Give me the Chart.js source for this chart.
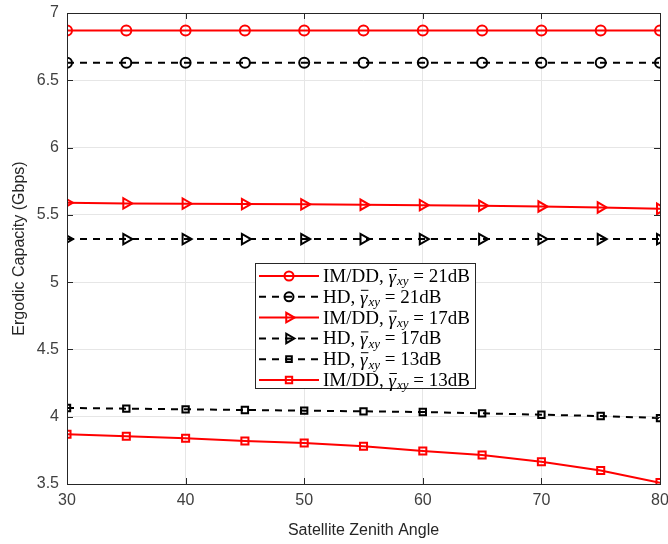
<!DOCTYPE html>
<html><head><meta charset="utf-8">
<script src="https://cdn.jsdelivr.net/npm/chart.js@4.4.0/dist/chart.umd.min.js"></script>
<style>html,body{margin:0;padding:0;background:#fff}#wrap{width:668px;height:544px}</style>
</head><body><div id="wrap"><canvas id="c" width="668" height="544"></canvas></div>
<script>
const angles = [30, 35, 40, 45, 50, 55, 60, 65, 70, 75, 80];
const imdd21 = [6.87, 6.87, 6.87, 6.87, 6.87, 6.87, 6.87, 6.87, 6.87, 6.87, 6.87];
const hd21   = [6.63, 6.63, 6.63, 6.63, 6.63, 6.63, 6.63, 6.63, 6.63, 6.63, 6.63];
const imdd17 = [5.59, 5.585, 5.583, 5.58, 5.578, 5.575, 5.572, 5.568, 5.562, 5.555, 5.545];
const hd17   = [5.32, 5.32, 5.32, 5.32, 5.32, 5.32, 5.32, 5.32, 5.32, 5.32, 5.32];
const hd13   = [4.065, 4.06, 4.055, 4.05, 4.045, 4.04, 4.035, 4.025, 4.015, 4.005, 3.99];
const imdd13 = [3.87, 3.855, 3.84, 3.82, 3.805, 3.78, 3.745, 3.715, 3.665, 3.6, 3.51];
const labelPrefix = ["IM/DD, ", "HD, ", "IM/DD, ", "HD, ", "HD, ", "IM/DD, "];
const labelSuffix = [" = 21dB", " = 21dB", " = 17dB", " = 17dB", " = 13dB", " = 13dB"];
const xTicks = [30, 40, 50, 60, 70, 80];
const yTicks = [3.5, 4, 4.5, 5, 5.5, 6, 6.5, 7];

const RED = '#ff0000', BLK = '#000000';
function pts(arr){ return angles.map((a,i)=>({x:a,y:arr[i]})); }
function ds(arr, color, dash, style, r, rot){
  return {data:pts(arr), borderColor:color, borderWidth:2, borderDash:dash,
    pointStyle:style, pointRadius:r, pointRotation:rot||0, pointBorderColor:color,
    pointBackgroundColor:'rgba(0,0,0,0)', pointBorderWidth:2, fill:false, tension:0};
}
const datasets = [
  ds(imdd21, RED, [], 'circle', 5),
  ds(hd21, BLK, [7,6], 'circle', 5),
  ds(imdd17, RED, [], 'triangle', 6, 90),
  ds(hd17, BLK, [7,6], 'triangle', 6, 90),
  ds(hd13, BLK, [7,6], 'rect', 4.5),
  ds(imdd13, RED, [], 'rect', 5),
];

const frame = {
  id:'frame',
  afterDatasetsDraw(chart){
    const {ctx, chartArea:a, scales} = chart;
    ctx.save();
    ctx.strokeStyle = '#262626'; ctx.lineWidth = 1;
    ctx.strokeRect(a.left+0.5, a.top+0.5, a.right-a.left, a.bottom-a.top);
    xTicks.forEach(v=>{const x=Math.round(scales.x.getPixelForValue(v))+0.5;
      ctx.beginPath();ctx.moveTo(x,a.bottom);ctx.lineTo(x,a.bottom-6);ctx.moveTo(x,a.top);ctx.lineTo(x,a.top+6);ctx.stroke();});
    yTicks.forEach(v=>{const y=Math.round(scales.y.getPixelForValue(v))+0.5;
      ctx.beginPath();ctx.moveTo(a.left,y);ctx.lineTo(a.left+6,y);ctx.moveTo(a.right,y);ctx.lineTo(a.right-6,y);ctx.stroke();});
    // legend
    const bx=255, by=263, bw=220, bh=125;
    ctx.fillStyle='#fff'; ctx.fillRect(bx,by,bw,bh);
    ctx.strokeStyle='#262626'; ctx.lineWidth=1; ctx.strokeRect(bx+0.5,by+0.5,bw,bh);
    const rowH = 20.8;
    chart.data.datasets.forEach((d,i)=>{
      const y = by + 13 + i*rowH;
      ctx.save();
      ctx.strokeStyle=d.borderColor; ctx.lineWidth=2; ctx.setLineDash(d.borderDash);
      ctx.beginPath(); ctx.moveTo(259,y); ctx.lineTo(319,y); ctx.stroke();
      ctx.setLineDash([]);
      ctx.fillStyle='rgba(0,0,0,0)';
      Chart.helpers.drawPoint(ctx, {pointStyle:d.pointStyle, radius:d.pointRadius-0.5, rotation:d.pointRotation, borderWidth:2}, 289, y);
      ctx.restore();
      ctx.fillStyle='#000'; ctx.textBaseline='middle'; ctx.textAlign='left';
      let x = 323;
      ctx.font = '19px "Liberation Serif"';
      ctx.fillText(labelPrefix[i], x, y+1); x += ctx.measureText(labelPrefix[i]).width;
      ctx.font = 'italic 19px "Liberation Serif"';
      ctx.fillText('γ', x, y+2); const gw = ctx.measureText('γ').width;
      ctx.lineWidth=1; ctx.strokeStyle='#000';
      ctx.beginPath(); ctx.moveTo(x+1, y-6.5); ctx.lineTo(x+gw+1, y-6.5); ctx.stroke();
      x += gw + 1;
      ctx.font = 'italic 13px "Liberation Serif"';
      ctx.fillText('xy', x, y+6); x += ctx.measureText('xy').width;
      ctx.font = '19px "Liberation Serif"';
      ctx.fillText(labelSuffix[i], x, y+1);
    });
    ctx.restore();
  }
};

new Chart(document.getElementById('c'), {
  type:'line',
  data:{datasets},
  plugins:[frame],
  options:{
    responsive:false, animation:false, devicePixelRatio:1,
    layout:{padding:{top:13, right:4, left:0, bottom:0}},
    plugins:{legend:{display:false}, tooltip:{enabled:false}},
    elements:{line:{borderCapStyle:'butt'}},
    scales:{
      x:{type:'linear', min:30, max:80,
        afterBuildTicks(s){s.ticks = xTicks.map(v=>({value:v}));},
        afterFit(s){s.height = 60; s.paddingLeft = 0; s.paddingRight = 0;},
        grid:{color:'#e6e6e6', drawTicks:false},
        border:{display:false},
        ticks:{padding:7, color:'#404040', font:{family:'"Liberation Sans"', size:16}, callback:v=>String(v)},
        title:{display:true, text:'Satellite Zenith Angle', color:'#262626', padding:{top:0}, font:{family:'"Liberation Sans"', size:16}}
      },
      y:{type:'linear', min:3.5, max:7,
        afterBuildTicks(s){s.ticks = yTicks.map(v=>({value:v}));},
        afterFit(s){s.width = 67; s.paddingTop = 0; s.paddingBottom = 0;},
        grid:{color:'#e6e6e6', drawTicks:false},
        border:{display:false},
        ticks:{padding:8, color:'#404040', font:{family:'"Liberation Sans"', size:16}, callback:v=>String(v)},
        title:{display:true, text:'Ergodic Capacity (Gbps)', color:'#262626', padding:{top:10, bottom:0}, font:{family:'"Liberation Sans"', size:16}}
      }
    }
  }
});
</script></body></html>
